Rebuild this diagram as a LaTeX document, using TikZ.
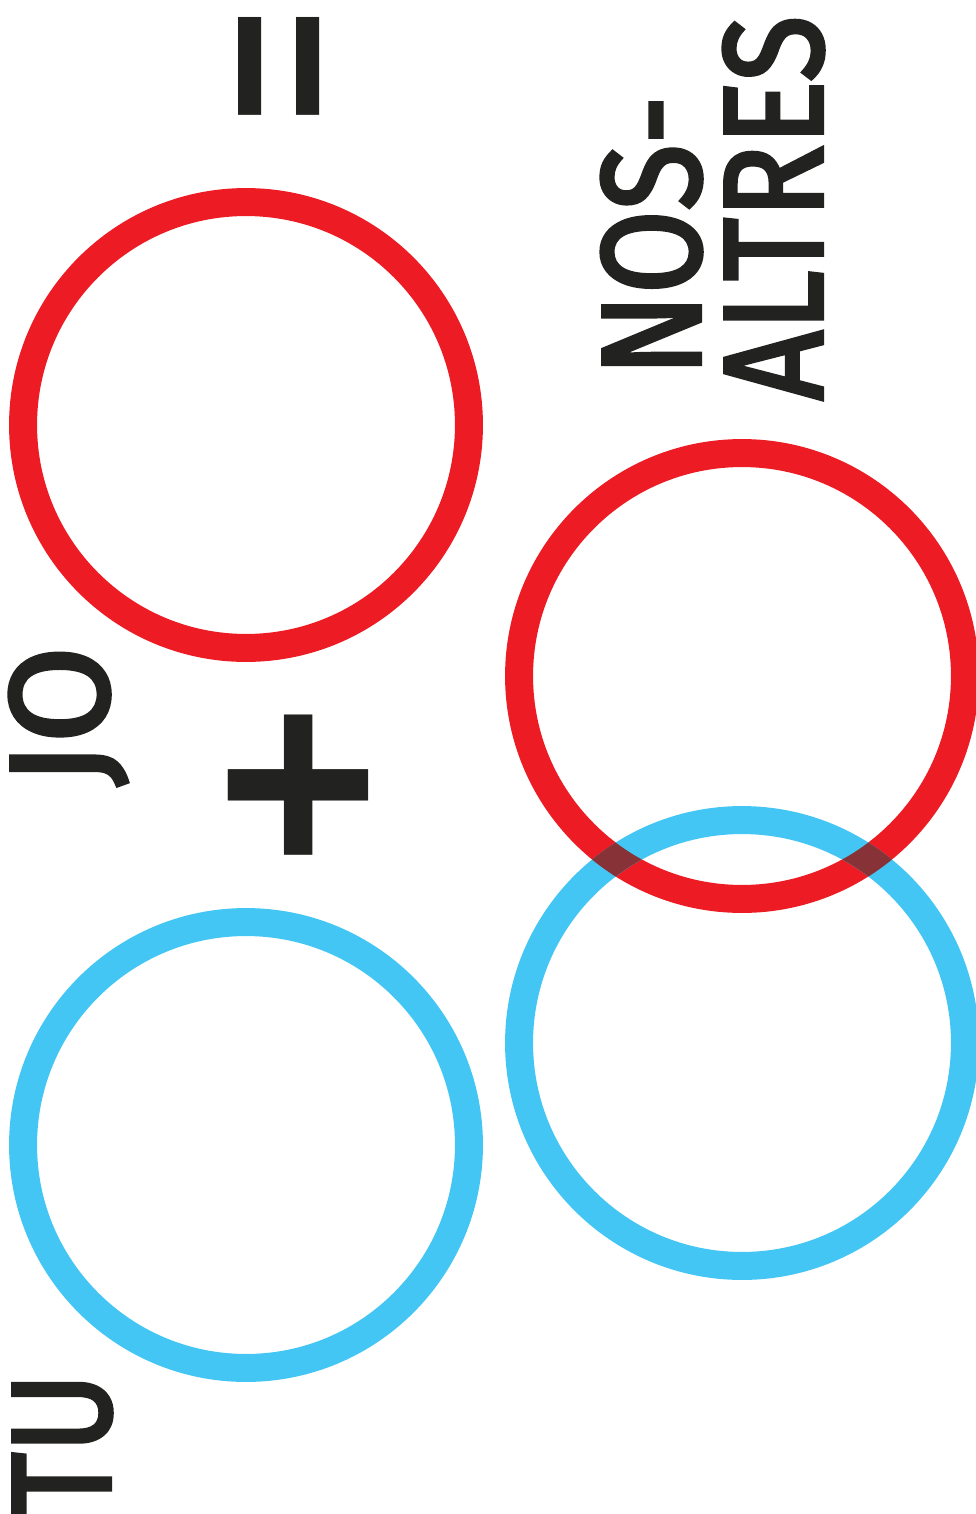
\documentclass[tikz,border=0pt]{standalone}
\usepackage{fontspec}
\setmainfont{Fira Sans}
\newfontfamily\handfont{Fira Sans}[FakeBold=3]
\usepackage{xcolor}
\usetikzlibrary{positioning}
\definecolor{ringred}{HTML}{ED1C24}
\definecolor{ringblue}{HTML}{44C6F4}
\definecolor{ringdark}{HTML}{873237}
\definecolor{inkblack}{HTML}{222220}

\begin{document}
\begin{tikzpicture}[
  x=0.02cm, y=-0.02cm,
  ring/.style={
    circle,
    draw,
    line width=0.56cm,
    minimum size=8.92cm,
    inner sep=0pt
  },
  word/.style={
    rotate=90,
    anchor=base,
    text=inkblack,
    inner sep=0pt,
    font=\handfont\fontsize{80}{80}\selectfont
  },
  sign/.style={
    rotate=90,
    text=inkblack,
    inner sep=0pt
  }
]
\useasboundingbox (0,0) rectangle (975,1514);

\node[ring, draw=ringred] (ringjo) at (246,425) {};
\node[ring, draw=ringblue] (ringtu) at (246,1145) {};
\node[ring, draw=ringred] (ringnos) at (742,676) {};
\node[ring, draw=ringblue] (ringaltres) at (742,1043) {};

% overlap of the two right rings
\begin{scope}[even odd rule]
  \clip (ringaltres.center) circle[radius=237]
    (ringaltres.center) circle[radius=209];
  \draw[ringdark, line width=0.56cm] (ringnos.center) circle[radius=223];
\end{scope}

\node[word] (jo) at (108,716) {JO};
\node[word] (tu) at (110,1444) {\scalebox{0.86}[1]{TU}};
\node[word] (nos) at (700,236) {\scalebox{0.86}[1]{NOS-}};
\node[word] (altres) at (822,208) {\scalebox{0.86}[1]{ALTRES}};

\node[sign, font=\fontsize{213}{213}\selectfont] (plus) at (325,785) {+};
\node[sign, font=\fontsize{190}{190}\selectfont] (equal) at (308,66)
  {\scalebox{0.78}[0.9]{=}};

\end{tikzpicture}
\end{document}
